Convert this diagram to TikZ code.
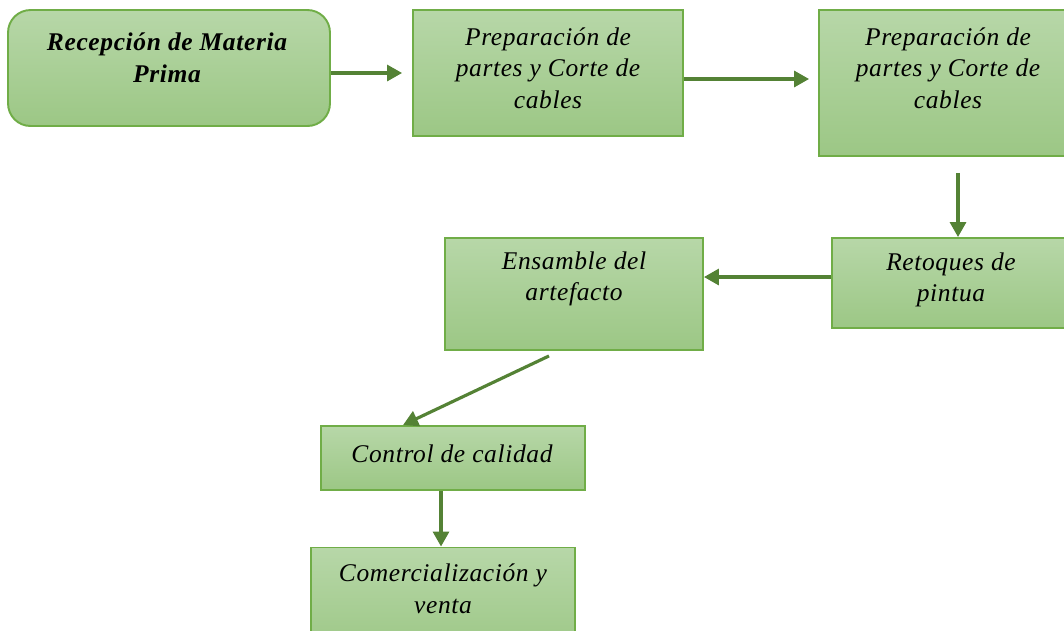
\documentclass[tikz,border=0pt]{standalone}
\usepackage{fontspec}
\setmainfont{Liberation Serif}[LetterSpace=2.5]
\usepackage{xcolor}
\usetikzlibrary{positioning,shapes,arrows.meta,calc}

\definecolor{boxtop}{HTML}{B7D7A8}
\definecolor{boxbot}{HTML}{9CC785}
\definecolor{boxline}{HTML}{70AD47}
\definecolor{flowline}{HTML}{548235}

\begin{document}
\begin{tikzpicture}[x=0.02cm, y=-0.02cm, >={Triangle[length=0.3cm,width=0.32cm]},
  box/.style={draw=boxline, line width=1.1pt, top color=boxtop, bottom color=boxbot, inner sep=0pt},
  txt/.style={font=\fontsize{14.5}{18}\selectfont\itshape, align=center, inner sep=0pt},
  flow/.style={->, draw=flowline, line width=1.8pt}]
  \useasboundingbox (0,0) rectangle (1064,630);

  % Boxes (some run past the page edge, as in the source)
  \node[box, rounded corners=0.45cm, minimum width=6.44cm, minimum height=2.32cm] (recepcion) at (169,68) {};
  \node[box, minimum width=5.4cm, minimum height=2.52cm] (prep1) at (548,73) {};
  \node[box, minimum width=5.16cm, minimum height=2.92cm] (prep2) at (948,83) {};
  \node[box, minimum width=4.76cm, minimum height=1.8cm] (retoques) at (951,283) {};
  \node[box, minimum width=5.16cm, minimum height=2.24cm] (ensamble) at (574,294) {};
  \node[box, minimum width=5.28cm, minimum height=1.28cm] (control) at (453,458) {};
  \node[box, minimum width=5.28cm, minimum height=2.14cm] (comercial) at (443,601) {};

  % Texts, set near the top of each box
  \node[txt, font=\fontsize{14.5}{18}\selectfont\bfseries\itshape] (recepcion-t) at (167,58) {Recepción de Materia\\Prima};
  \node[txt] (prep1-t) at (548,68) {Preparación de\\partes y Corte de\\cables};
  \node[txt] (prep2-t) at (948,68) {Preparación de\\partes y Corte de\\cables};
  \node[txt] (retoques-t) at (951,280) {Retoques de\\pintua};
  \node[txt] (ensamble-t) at (574,279) {Ensamble del\\artefacto};
  \node[txt] (control-t) at (452,454) {Control de calidad};
  \node[txt] (comercial-t) at (443,589) {Comercialización y\\venta};

  % Flow
  \draw[flow] ([yshift=-0.1cm]recepcion.east) -- ([yshift=-0.1cm, xshift=-0.2cm]recepcion.east -| prep1.west);
  \draw[flow] ([yshift=-0.12cm]prep1.east) -- ([yshift=-0.12cm, xshift=-0.18cm]prep1.east -| prep2.west);
  \draw[flow] ([xshift=0.2cm, yshift=-0.32cm]prep2.south) -- ([xshift=0.2cm]prep2.south |- retoques.north);
  \draw[flow] ([yshift=0.12cm]retoques.west) -- ([yshift=0.12cm]retoques.west -| ensamble.east);
  \draw[flow] ([xshift=-0.5cm, yshift=-0.1cm]ensamble.south) -- ([xshift=-1cm]control.north);
  \draw[flow] ([xshift=-0.24cm]control.south) -- ([xshift=-0.24cm]control.south |- comercial.north);
\end{tikzpicture}
\end{document}
